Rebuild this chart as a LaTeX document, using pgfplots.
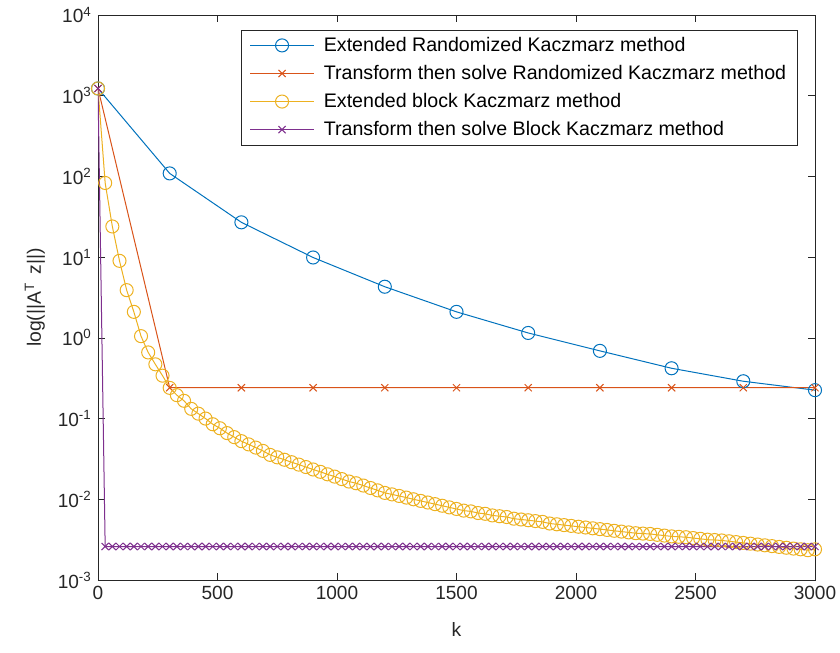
\documentclass[border=0pt]{standalone}
\usepackage{pgfplots}
\pgfplotsset{compat=1.18}
\usepackage{fontspec}
\setmainfont{Liberation Sans}
\definecolor{mblue}{rgb}{0,0.447,0.741}
\definecolor{morange}{rgb}{0.85,0.325,0.098}
\definecolor{myellow}{rgb}{0.929,0.694,0.125}
\definecolor{mpurple}{rgb}{0.494,0.184,0.556}
\definecolor{maxis}{rgb}{0.15,0.15,0.15}
\begin{document}
\fontsize{14}{16.8}\selectfont
\begin{tikzpicture}
\path[use as bounding box] (-73.5pt,-54.75pt) rectangle (556.5pt,435pt);
\begin{axis}[
  scale only axis, width=537.75pt, height=423.75pt,
  at={(0,0)}, anchor=south west,
  ymode=log, log basis y=10,
  xmin=0, xmax=3000, ymin=1e-3, ymax=1e4,
  xtick={0,500,...,3000},
  ytick={1e-3,1e-2,1e-1,1,1e1,1e2,1e3,1e4},
  yticklabels={10\textsuperscript{-3},10\textsuperscript{-2},10\textsuperscript{-1},10\textsuperscript{0},10\textsuperscript{1},10\textsuperscript{2},10\textsuperscript{3},10\textsuperscript{4}},
  scaled x ticks=false,
  /pgf/number format/assume math mode=true,
  /pgf/number format/1000 sep={},
  tick label style={font=\fontsize{14.3}{17}\selectfont, text=maxis},
  axis line style={draw=maxis},
  every tick/.style={draw=maxis},
  major tick length=5pt, minor tick length=2.6pt,
  every axis y label/.style={at={(axis description cs:-0.088,0.5)},rotate=90,anchor=center},
  every axis x label/.style={at={(axis description cs:0.5,-0.088)},anchor=center},
  xlabel={k}, ylabel={log(||A\textsuperscript{T}\, z||)},
  label style={font=\fontsize{14.5}{17}\selectfont, text=maxis},
  legend style={at={(0.975,0.9735)}, anchor=north east, draw=maxis, fill=white,
    font=\fontsize{14.7}{17.2}\selectfont, row sep=4.3pt, inner xsep=6pt, inner ysep=3pt,
    /tikz/every odd column/.append style={column sep=5pt}},
  legend cell align=left,
  legend image code/.code={\draw[mark repeat=2,mark phase=2] plot coordinates {(0pt,0pt) (24pt,0pt) (48pt,0pt)};},
]
\addplot[mblue, line width=0.75pt, mark=o, mark size=4.9pt] coordinates {
(0,1230)(300,109)(600,27)(900,9.9)(1200,4.3)(1500,2.1)(1800,1.15)(2100,0.69)(2400,0.42)(2700,0.29)(3000,0.225)};
\addlegendentry{Extended Randomized Kaczmarz method}
\addplot[morange, line width=0.75pt, mark=x, mark size=3.8pt] coordinates {
(0,1230)(300,0.241)(600,0.241)(900,0.241)(1200,0.241)(1500,0.241)(1800,0.241)(2100,0.241)(2400,0.241)(2700,0.241)(3000,0.241)};
\addlegendentry{Transform then solve Randomized Kaczmarz method}
\addplot[myellow, line width=0.75pt, mark=o, mark size=4.9pt] coordinates {
(0,1230)(30,83)(60,24)(90,9.0)(120,3.9)(150,2.1)(180,1.05)(210,0.66)(240,0.47)(270,0.34)(300,0.240)(330,0.195)(360,0.166)(390,0.132)(420,0.115)(450,0.100)(480,0.0851)(510,0.0759)(540,0.0661)(570,0.0589)(600,0.0525)(630,0.0479)(660,0.0437)(690,0.0398)(720,0.0355)(750,0.0331)(780,0.0309)(810,0.0288)(840,0.0269)(870,0.0251)(900,0.0234)(930,0.0219)(960,0.0204)(990,0.0191)(1020,0.0178)(1050,0.0166)(1080,0.0158)(1110,0.0148)(1140,0.0138)(1170,0.0129)(1200,0.0120)(1230,0.0115)(1260,0.0110)(1290,0.0105)(1320,0.0100)(1350,0.00955)(1380,0.00912)(1410,0.00871)(1440,0.00832)(1470,0.00794)(1500,0.00759)(1530,0.00724)(1560,0.00708)(1590,0.00676)(1620,0.00661)(1650,0.00631)(1680,0.00617)(1710,0.00603)(1740,0.00575)(1770,0.00562)(1800,0.00550)(1830,0.00537)(1860,0.00525)(1890,0.00501)(1920,0.00490)(1950,0.00479)(1980,0.00468)(2010,0.00457)(2040,0.00447)(2070,0.00437)(2100,0.00427)(2130,0.00417)(2160,0.00407)(2190,0.00398)(2220,0.00389)(2250,0.00380)(2280,0.00376)(2310,0.00372)(2340,0.00363)(2370,0.00355)(2400,0.00347)(2430,0.00343)(2460,0.00339)(2490,0.00331)(2520,0.00324)(2550,0.00316)(2580,0.00313)(2610,0.00309)(2640,0.00302)(2670,0.00295)(2700,0.00288)(2730,0.00282)(2760,0.00275)(2790,0.00269)(2820,0.00263)(2850,0.00257)(2880,0.00251)(2910,0.00245)(2940,0.00240)(2970,0.00234)(3000,0.00240)};
\addlegendentry{Extended block Kaczmarz method}
\addplot[mpurple, line width=0.75pt, mark=x, mark size=3.8pt] coordinates {
(0,1230)(30,0.0026)(60,0.0026)(90,0.0026)(120,0.0026)(150,0.0026)(180,0.0026)(210,0.0026)(240,0.0026)(270,0.0026)(300,0.0026)(330,0.0026)(360,0.0026)(390,0.0026)(420,0.0026)(450,0.0026)(480,0.0026)(510,0.0026)(540,0.0026)(570,0.0026)(600,0.0026)(630,0.0026)(660,0.0026)(690,0.0026)(720,0.0026)(750,0.0026)(780,0.0026)(810,0.0026)(840,0.0026)(870,0.0026)(900,0.0026)(930,0.0026)(960,0.0026)(990,0.0026)(1020,0.0026)(1050,0.0026)(1080,0.0026)(1110,0.0026)(1140,0.0026)(1170,0.0026)(1200,0.0026)(1230,0.0026)(1260,0.0026)(1290,0.0026)(1320,0.0026)(1350,0.0026)(1380,0.0026)(1410,0.0026)(1440,0.0026)(1470,0.0026)(1500,0.0026)(1530,0.0026)(1560,0.0026)(1590,0.0026)(1620,0.0026)(1650,0.0026)(1680,0.0026)(1710,0.0026)(1740,0.0026)(1770,0.0026)(1800,0.0026)(1830,0.0026)(1860,0.0026)(1890,0.0026)(1920,0.0026)(1950,0.0026)(1980,0.0026)(2010,0.0026)(2040,0.0026)(2070,0.0026)(2100,0.0026)(2130,0.0026)(2160,0.0026)(2190,0.0026)(2220,0.0026)(2250,0.0026)(2280,0.0026)(2310,0.0026)(2340,0.0026)(2370,0.0026)(2400,0.0026)(2430,0.0026)(2460,0.0026)(2490,0.0026)(2520,0.0026)(2550,0.0026)(2580,0.0026)(2610,0.0026)(2640,0.0026)(2670,0.0026)(2700,0.0026)(2730,0.0026)(2760,0.0026)(2790,0.0026)(2820,0.0026)(2850,0.0026)(2880,0.0026)(2910,0.0026)(2940,0.0026)(2970,0.0026)(3000,0.0026)};
\addlegendentry{Transform then solve Block Kaczmarz method}
\end{axis}
\end{tikzpicture}
\end{document}
